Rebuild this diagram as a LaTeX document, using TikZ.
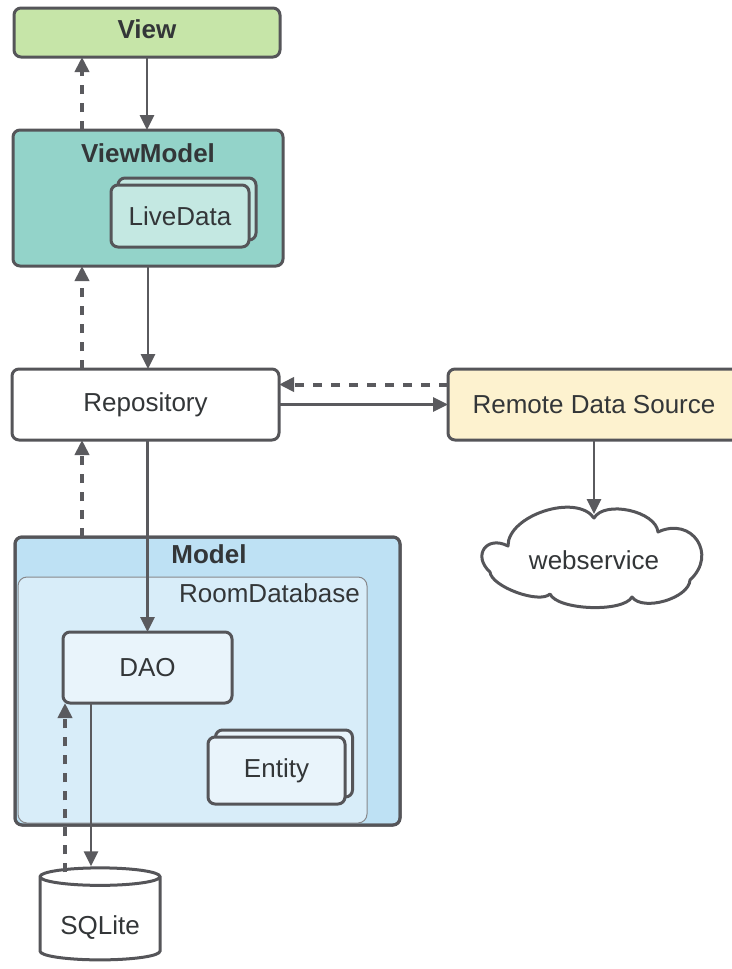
\documentclass[tikz,border=0pt]{standalone}
\usepackage{fontspec}
\setmainfont{Liberation Sans}
\usetikzlibrary{arrows.meta,shapes.symbols,shapes.geometric,calc}
\definecolor{bd}{HTML}{555559}
\definecolor{tx}{HTML}{333638}
\definecolor{ar}{HTML}{5A5A5E}
\definecolor{viewc}{HTML}{C6E5A8}
\definecolor{vmc}{HTML}{93D3C9}
\definecolor{ldc}{HTML}{C4E8E2}
\definecolor{modelc}{HTML}{BEE1F4}
\definecolor{roomc}{HTML}{D8EDF9}
\definecolor{daoc}{HTML}{E9F4FB}
\definecolor{rdsc}{HTML}{FDF2CF}
\begin{document}
\begin{tikzpicture}[x=1pt,y=-1pt,
  box/.style={draw=bd, line width=3pt, rounded corners=7pt, text=tx, inner sep=0pt, outer sep=0pt,
    font=\fontsize{26}{30}\selectfont},
  ttl/.style={text=tx, inner sep=0pt, font=\fontsize{26}{30}\selectfont\bfseries},
  lbl/.style={text=tx, inner sep=0pt, font=\fontsize{26}{30}\selectfont},
  arr/.style={draw=ar, line width=2.7pt, -{Triangle[length=15pt,width=14pt]}},
  darr/.style={draw=ar, line width=4pt, dash pattern=on 9pt off 9pt, -{Triangle[length=15pt,width=14pt]}},
]
\useasboundingbox (0,0) rectangle (731,969);

% View
\node[box, fill=viewc, minimum width=266, minimum height=49] (view) at (147,32.5) {};
\node[ttl] (viewt) at (147,29) {View};

% ViewModel
\node[box, fill=vmc, minimum width=270, minimum height=136] (vm) at (148,198) {};
\node[ttl] (vmt) at (148,153) {ViewModel};
\node[box, fill=ldc, minimum width=138, minimum height=62] (ldb) at (187,209) {};
\node[box, fill=ldc, minimum width=138, minimum height=62] (ld) at (180,216) {LiveData};

% Repository
\node[box, fill=white, minimum width=267, minimum height=71] (repo) at (145.5,404.5) {Repository};

% Remote data source
\node[box, fill=rdsc, minimum width=292, minimum height=71] (rds) at (594,404.5) {Remote Data Source};

% webservice cloud
\draw[draw=bd, line width=3pt, fill=white, line join=round]
  (490,572) .. controls (472,555.7) and (486.4,534.9) .. (508,546)
  .. controls (507.5,515.3) and (576.3,492.9) .. (594,518)
  .. controls (604.7,499.9) and (655.9,511.1) .. (658,532)
  .. controls (692.2,516.1) and (717.8,554.5) .. (690,580)
  .. controls (689.1,598.3) and (642.7,611.9) .. (632,597)
  .. controls (623.2,612.7) and (557.6,610.3) .. (550,594)
  .. controls (539.4,604.3) and (491.4,586.7) .. (490,572) -- cycle;
\node[lbl, minimum width=220, minimum height=92, outer sep=0pt] (ws) at (594,560) {webservice};

% Model
\node[box, fill=modelc, minimum width=385, minimum height=288] (model) at (207.5,681) {};
\node[ttl] (modelt) at (209,554) {Model};
\node[draw=bd!70, line width=1pt, fill=roomc, rounded corners=9pt, minimum width=349, minimum height=246, outer sep=0pt, inner sep=0pt] (room) at (192.5,700) {};
\draw[draw=bd, line width=3pt, rounded corners=7pt] (model.north west) rectangle (model.south east);
\node[lbl, anchor=north east] (roomt) at (360,583) {RoomDatabase};

% DAO
\node[box, fill=daoc, minimum width=169, minimum height=71] (dao) at (147.5,667.5) {DAO};

% Entity
\node[box, fill=daoc, minimum width=137, minimum height=67] (entb) at (284,763.5) {};
\node[box, fill=daoc, minimum width=137, minimum height=67] (ent) at (276.5,770.5) {Entity};

% SQLite
\node[cylinder, shape border rotate=90, aspect=0.22, draw=bd, line width=3pt, fill=white,
  minimum width=120, minimum height=92, inner sep=0pt, font=\fontsize{26}{30}\selectfont] (sql) at (100,919) {\phantom{SQLite}};
\node[lbl] (sqlt) at ([yshift=-9pt]sql.center) {SQLite};

% helper coordinates
\coordinate (c82) at (82,0);
\coordinate (c91) at (91,0);
\coordinate (c65) at (65,0);

% connectors
\draw[arr] (view.south) -- (view.south |- vm.north);
\draw[darr] (vm.north -| c82) -- (view.south -| c82);
\draw[arr] (vm.south) -- (vm.south |- repo.north);
\draw[darr] (repo.north -| c82) -- (vm.south -| c82);
\draw[darr] ([yshift=20pt]rds.west) -- ([yshift=20pt]repo.east);
\draw[arr] (repo.east) -- (rds.west);
\draw[arr] (rds.south) -- (ws.north);
\draw[darr] (model.north -| c82) -- (repo.south -| c82);
\draw[arr] (repo.south -| dao.north) -- (dao.north);
\draw[arr] (dao.south -| c91) -- (sql.north -| c91);
\draw[darr] ([yshift=-6pt]sql.north -| c65) -- (dao.south -| c65);
\end{tikzpicture}
\end{document}
